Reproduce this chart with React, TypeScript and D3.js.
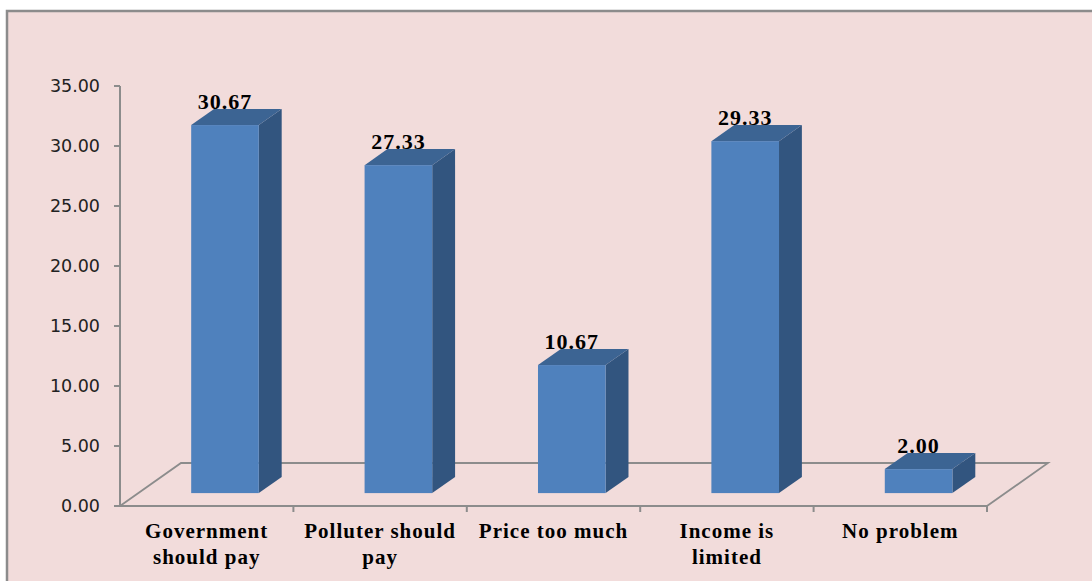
import React from "react";
import * as d3 from "d3";

const categories: string[][] = [
  ["Government", "should pay"],
  ["Polluter should", "pay"],
  ["Price too much"],
  ["Income is", "limited"],
  ["No problem"],
];
const values: number[] = [30.67, 27.33, 10.67, 29.33, 2.0];
const yTicks: number[] = [0, 5, 10, 15, 20, 25, 30, 35];

const W = 1092;
const H = 581;
const X0 = 120;
const X1 = 987;
const Y0 = 506;
const Y1 = 86;
const DEPTH_X = 61;
const DEPTH_Y = -43;
const BAR_FRONT = 0.3;
const BAR_DEPTH = 0.375;
const BAR_W_FRAC = 0.39;

export default function App() {
  const y = d3.scaleLinear().domain([0, 35]).range([Y0, Y1]);
  const x = d3
    .scaleBand<number>()
    .domain(values.map((_, i) => i))
    .range([X0, X1]);
  const step = x.step();
  const barW = step * BAR_W_FRAC;
  const fdx = DEPTH_X * BAR_FRONT;
  const fdy = DEPTH_Y * BAR_FRONT;
  const bdx = DEPTH_X * BAR_DEPTH;
  const bdy = DEPTH_Y * BAR_DEPTH;
  const grid = "#8c8c8c";

  return (
    <svg
      width={W}
      height={H}
      style={{ position: "absolute", left: 0, top: 0, display: "block" }}
    >
      <rect x={0} y={0} width={W} height={H} fill="#ffffff" />
      <rect x={7} y={11} width={W + 20} height={H + 20} fill="#F2DCDB" stroke={grid} strokeWidth={2.5} />

      {/* floor */}
      <path
        d={`M${X0},${Y0} L${X0 + DEPTH_X},${Y0 + DEPTH_Y} L${X1 + DEPTH_X},${Y0 + DEPTH_Y} L${X1},${Y0}`}
        fill="none"
        stroke={grid}
        strokeWidth={1.8}
      />
      {/* axes */}
      <line x1={X0} y1={y(35)} x2={X0} y2={Y0} stroke={grid} strokeWidth={2} />
      <line x1={X0} y1={Y0} x2={X1} y2={Y0} stroke={grid} strokeWidth={2} />
      {yTicks.map((t) => (
        <g key={t}>
          <line x1={X0 - 6} x2={X0} y1={y(t)} y2={y(t)} stroke={grid} strokeWidth={2} />
          <text
            x={100}
            y={y(t)}
            dy="0.36em"
            textAnchor="end"
            fontFamily="DejaVu Sans, sans-serif"
            fontSize={17.5}
            fill="#222"
          >
            {t.toFixed(2)}
          </text>
        </g>
      ))}
      {values.map((_, i) => (
        <line
          key={i}
          x1={X0 + step * (i + 1)}
          x2={X0 + step * (i + 1)}
          y1={Y0}
          y2={Y0 + 6}
          stroke={grid}
          strokeWidth={2}
        />
      ))}

      {/* bars */}
      {values.map((v, i) => {
        const cx = (x(i) as number) + step / 2 + fdx;
        const l = cx - barW / 2;
        const r = cx + barW / 2;
        const bottom = y(0) + fdy;
        const top = y(v) + fdy;
        return (
          <g key={i}>
            <path
              d={`M${r},${bottom} L${r + bdx},${bottom + bdy} L${r + bdx},${top + bdy} L${r},${top} Z`}
              fill="#32557F"
            />
            <path
              d={`M${l},${top} L${l + bdx},${top + bdy} L${r + bdx},${top + bdy} L${r},${top} Z`}
              fill="#3C6493"
            />
            <rect x={l} y={top} width={barW} height={bottom - top} fill="#4F81BD" />
            <text
              x={cx}
              y={top + bdy}
              textAnchor="middle"
              fontFamily="Liberation Serif, Times New Roman, serif"
              fontWeight="bold"
              fontSize={22}
              letterSpacing={1}
              fill="#000"
            >
              {v.toFixed(2)}
            </text>
          </g>
        );
      })}

      {/* category labels */}
      {categories.map((lines, i) => {
        const cx = (x(i) as number) + step / 2;
        return (
          <text
            key={i}
            x={cx}
            y={538}
            textAnchor="middle"
            fontFamily="Liberation Serif, Times New Roman, serif"
            fontWeight="bold"
            fontSize={21}
            letterSpacing={1}
            fill="#000"
          >
            {lines.map((ln, j) => (
              <tspan key={j} x={cx} dy={j === 0 ? 0 : 25.5}>
                {ln}
              </tspan>
            ))}
          </text>
        );
      })}
    </svg>
  );
}
